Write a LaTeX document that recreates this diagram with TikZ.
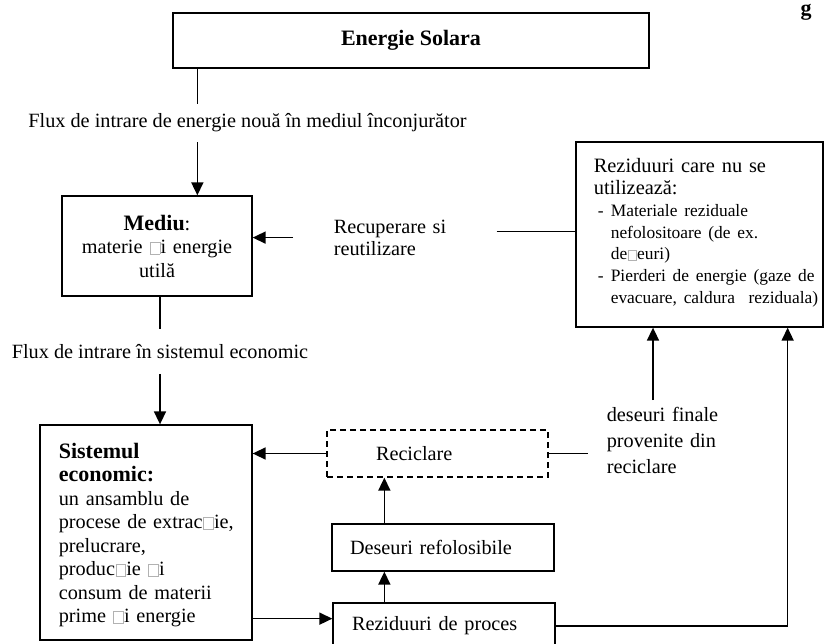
\documentclass[tikz,border=0pt]{standalone}
\usepackage{fontspec}
\setmainfont{Liberation Serif}
\usepackage{tikz}
\usetikzlibrary{arrows.meta}
% fehlendes Zeichen als leeres Kaestchen
\newcommand{\luecke}{\kern0.5pt{\color{gray!60}\setlength{\fboxsep}{0pt}\setlength{\fboxrule}{0.5pt}\fbox{\rule{0pt}{0.55em}\hspace{0.46em}}}\kern0.5pt}

\begin{document}
\begin{tikzpicture}[x=1pt, y=-1pt,
			>={Triangle[length=13pt,width=12pt]},   %Pfeilspitzen
			line width=1.6pt,
			kasten/.style={draw, line width=1.3pt, inner sep=0pt},
			schrift/.style={font=\fontsize{20.25}{23.5}\selectfont},
			fett/.style={font=\fontsize{22}{23.5}\selectfont\bfseries}]
			%Bildbereich
			\useasboundingbox (0,0) rectangle (826,644);
			\clip (0,0) rectangle (826,644);
			% Kaesten
			\node[kasten, fett, minimum width=476, minimum height=55] (sonne) at (411,40.5) {Energie Solara};
			\node[fett, anchor=base, inner sep=0pt] (ecke) at (806,16) {g};
			\node[kasten, schrift, minimum width=190, minimum height=100, text width=184, align=center] (mediu) at (157,246)
				{{\fontsize{22}{23}\selectfont\textbf{Mediu}}:\\ materie \luecke i energie\\ utilă};
			\node[kasten, minimum width=247, minimum height=185] (rest) at (699.5,234.5) {};
			\node[anchor=north west, inner sep=0pt, text width=250, align=left, font=\fontsize{20.4}{21.7}\selectfont] (resttext) at (593,158)
				{\hyphenpenalty=10000 Reziduuri care nu se\\ utilizează:\\ \fontsize{17.4}{21.7}\selectfont
				\hspace*{4pt}\makebox[13pt][l]{-}Materiale reziduale\\
				\hspace*{17pt}nefolositoare (de ex.\\
				\hspace*{17pt}de\luecke euri)\\
				\hspace*{4pt}\makebox[13pt][l]{-}Pierderi de energie (gaze de\\
				\hspace*{17pt}evacuare, caldura~ reziduala)};
			\node[kasten, minimum width=212, minimum height=215] (sys) at (146,532.5) {};
			\node[schrift, anchor=north west, inner sep=0pt, text width=190, align=left] (systext) at (58,442)
				{{\fontsize{22}{23.5}\selectfont\textbf{Sistemul}}\\
				{\fontsize{22}{23.5}\selectfont\textbf{economic:}}\\
				un ansamblu de\\ procese de extrac\luecke ie,\\ prelucrare,\\
				produc\luecke ie \luecke i\\ consum de materii\\ prime \luecke i energie};
			\node[kasten, schrift, dash pattern=on 6pt off 4pt, minimum width=221, minimum height=47, text width=123, inner xsep=49pt, align=left] (recy) at (437.5,453.5) {Reciclare};
			\node[kasten, schrift, minimum width=222, minimum height=47, text width=186, inner xsep=18pt, align=left] (dfol) at (443,547.5) {Deseuri refolosibile};
			\node[kasten, schrift, minimum width=222, minimum height=46, text width=184, inner xsep=19pt, align=left] (proc) at (444,626) {Reziduuri de proces};
			% Beschriftungen
			\node[schrift, minimum height=37, inner sep=0pt] (fluss1) at (247.5,123) {Flux de intrare de energie nouă în mediul înconjurător};
			\node[schrift, minimum height=43, inner sep=0pt] (fluss2) at (160,351.5) {Flux de intrare în sistemul economic};
			\node[schrift, anchor=north west, inner xsep=40pt, inner ysep=6pt, text width=122, align=left, font=\fontsize{20.25}{22}\selectfont] (recup) at (293,213) {Recuperare si\\ reutilizare};
			\node[anchor=north west, inner xsep=18pt, inner ysep=6pt, text width=115, align=left, font=\fontsize{20.25}{26}\selectfont] (dfin) at (588,400) {deseuri finale\\ provenite din\\ reciclare};
			% Verbindungen
			\coordinate (kn1) at ([xshift=25pt]sonne.south west);
			\draw (kn1) -- (kn1 |- fluss1.north);
			\draw[->] (kn1 |- fluss1.south) -- (kn1 |- mediu.north);
			\draw (fluss2.north |- mediu.south) -- (fluss2.north);
			\draw[->] (fluss2.south) -- (fluss2.south |- sys.north);
			\draw[->] (recup.west) -- (recup.west -| mediu.east);
			\draw ([yshift=6pt]recup.east) -- ([yshift=6pt]recup.east -| rest.west);
			\draw[->] (recy.west) -- (recy.west -| sys.east);
			\draw (recy.east) -- (recy.east -| dfin.west);
			\draw[->] ([xshift=65pt]dfin.north west) -- ([xshift=65pt]dfin.north west |- rest.south);
			\draw[->] ([xshift=53pt]dfol.north west) -- ([xshift=53pt]dfol.north west |- recy.south);
			\draw[->] ([xshift=52pt]proc.north west) -- ([xshift=52pt]proc.north west |- dfol.south);
			\draw[->] ([yshift=22pt]sys.south east) -- ([yshift=22pt]sys.south east -| proc.west);
			\draw[->] (proc.east) -| ([xshift=-36pt]rest.south east);
\end{tikzpicture}
\end{document}
